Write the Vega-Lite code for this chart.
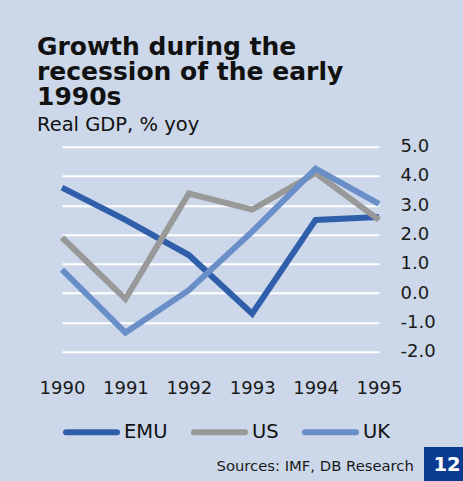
{
  "$schema": "https://vega.github.io/schema/vega-lite/v6.json",
  "width": 317,
  "height": 205,
  "autosize": {"type": "none"},
  "padding": {"left": 62, "top": 146.7, "right": 84, "bottom": 129.3},
  "background": "#CCD8E9",
  "config": {"view": {"stroke": null}, "font": "DejaVu Sans"},
  "title": {
    "text": ["Growth during the", "recession of the early", "1990s"],
    "subtitle": "Real GDP, % yoy",
    "anchor": "start",
    "frame": "group",
    "dx": -25,
    "font": "DejaVu Sans",
    "fontSize": 25,
    "fontWeight": "bold",
    "lineHeight": 25.3,
    "color": "#111111",
    "subtitleFont": "DejaVu Sans",
    "subtitleFontSize": 19.5,
    "subtitleColor": "#111111",
    "subtitlePadding": 6,
    "offset": 3
  },
  "layer": [
    {
      "data": {
        "values": [
          {"year": 1990, "country": "EMU", "value": 3.6},
          {"year": 1991, "country": "EMU", "value": 2.5},
          {"year": 1992, "country": "EMU", "value": 1.3},
          {"year": 1993, "country": "EMU", "value": -0.7},
          {"year": 1994, "country": "EMU", "value": 2.5},
          {"year": 1995, "country": "EMU", "value": 2.6},
          {"year": 1990, "country": "US", "value": 1.9},
          {"year": 1991, "country": "US", "value": -0.2},
          {"year": 1992, "country": "US", "value": 3.4},
          {"year": 1993, "country": "US", "value": 2.85},
          {"year": 1994, "country": "US", "value": 4.1},
          {"year": 1995, "country": "US", "value": 2.5},
          {"year": 1990, "country": "UK", "value": 0.8},
          {"year": 1991, "country": "UK", "value": -1.35},
          {"year": 1992, "country": "UK", "value": 0.1},
          {"year": 1993, "country": "UK", "value": 2.1},
          {"year": 1994, "country": "UK", "value": 4.25},
          {"year": 1995, "country": "UK", "value": 3.05}
        ]
      },
      "mark": {"type": "line", "strokeJoin": "miter"},
      "encoding": {
        "x": {
          "field": "year",
          "type": "quantitative",
          "scale": {"domain": [1990, 1995], "nice": false, "zero": false},
          "axis": {
            "values": [1990, 1991, 1992, 1993, 1994, 1995],
            "format": "d",
            "labelFlush": false,
            "labelOverlap": false,
            "grid": false,
            "domain": false,
            "ticks": false,
            "title": null,
            "labelFont": "DejaVu Sans",
            "labelFontSize": 18,
            "labelColor": "#1a1a1a",
            "labelPadding": 28
          }
        },
        "y": {
          "field": "value",
          "type": "quantitative",
          "scale": {"domain": [-2, 5], "nice": false, "zero": false},
          "axis": {
            "orient": "right",
            "values": [-2, -1, 0, 1, 2, 3, 4, 5],
            "labelExpr": "datum.value < 0 ? '-' + format(-datum.value, '.1f') : format(datum.value, '.1f')",
            "grid": true,
            "gridColor": "#FFFFFF",
            "gridWidth": 2,
            "gridOpacity": 1,
            "domain": false,
            "ticks": false,
            "title": null,
            "labelAlign": "left",
            "labelBaseline": "middle",
            "labelPadding": 21,
            "labelFont": "DejaVu Sans",
            "labelFontSize": 18,
            "labelColor": "#1a1a1a"
          }
        },
        "color": {
          "field": "country",
          "type": "nominal",
          "scale": {"domain": ["EMU", "US", "UK"], "range": ["#2F5EAB", "#9A9999", "#6A8FC8"]},
          "legend": {
            "orient": "none",
            "legendX": 1,
            "legendY": 256.8,
            "direction": "horizontal",
            "title": null,
            "symbolType": "stroke",
            "symbolSize": 2601,
            "labelFont": "DejaVu Sans",
            "labelFontSize": 19.5,
            "labelColor": "#111111",
            "labelOffset": 4,
            "columnPadding": 14,
            "padding": 0,
            "encode": {"symbols": {"update": {"strokeCap": {"value": "round"}}}}
          }
        },
        "strokeWidth": {
          "field": "country",
          "type": "nominal",
          "scale": {"domain": ["EMU", "US", "UK"], "range": [6, 6, 4]}
        },
        "detail": {"field": "country"}
      }
    },
    {
      "data": {"values": [{"badge": "12", "source": "Sources: IMF, DB Research"}]},
      "mark": {"type": "point", "opacity": 0},
      "encoding": {
        "shape": {
          "field": "badge",
          "type": "nominal",
          "legend": {
            "orient": "none",
            "legendX": 362,
            "legendY": 300.3,
            "title": null,
            "fillColor": "#0A3D91",
            "padding": 8,
            "symbolSize": 1,
            "symbolOpacity": 0,
            "symbolStrokeWidth": 0,
            "labelOffset": -18,
            "labelFont": "DejaVu Sans",
            "labelFontWeight": "bold",
            "labelFontSize": 19.5,
            "labelColor": "#FFFFFF"
          }
        },
        "fill": {
          "field": "source",
          "type": "nominal",
          "legend": {
            "orient": "none",
            "legendX": 154.7,
            "legendY": 313,
            "title": null,
            "padding": 0,
            "symbolSize": 1,
            "symbolOpacity": 0,
            "symbolStrokeWidth": 0,
            "labelOffset": -15,
            "labelFont": "DejaVu Sans",
            "labelFontSize": 14.8,
            "labelColor": "#1a1a1a",
            "labelLimit": 400
          }
        }
      }
    }
  ]
}
